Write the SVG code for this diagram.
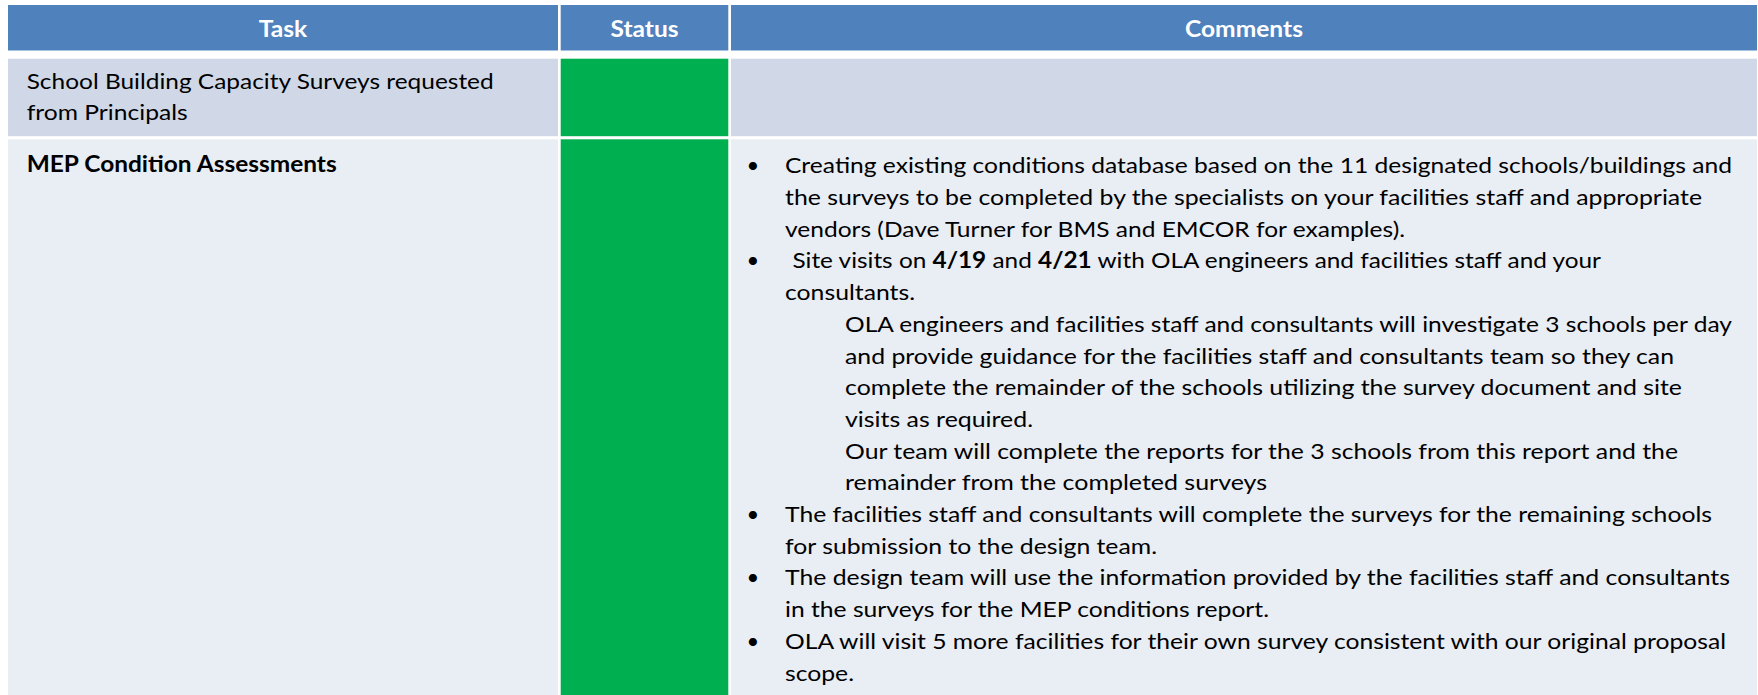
<svg xmlns="http://www.w3.org/2000/svg" width="1758" height="695" viewBox="0 0 1758 695">
<style>
.hdr{fill:#4F81BD}
.r1{fill:#D0D8E8}
.r2{fill:#E9EDF4}
.ok{fill:#00B050}
.ht{font-family:Lato,"Liberation Sans",sans-serif;font-size:22px;font-weight:bold;fill:#FFFFFF;text-anchor:middle}
.t{font-family:Lato,"Liberation Sans",sans-serif;font-size:22px;fill:#000000}
.b{font-weight:bold}
.bul{font-family:Lato,"Liberation Sans",sans-serif;font-size:22px;fill:#000000;text-anchor:middle}
</style>
<rect x="0" y="0" width="1758" height="695" fill="#FFFFFF"/>
<g id="header">
  <g id="h-task"><rect class="hdr" x="8" y="5" width="550" height="45.5"/><text class="ht" x="283" y="37" textLength="48.5" lengthAdjust="spacingAndGlyphs">Task</text></g>
  <g id="h-status"><rect class="hdr" x="560.7" y="5" width="167.6" height="45.5"/><text class="ht" x="644.5" y="37" textLength="68" lengthAdjust="spacingAndGlyphs">Status</text></g>
  <g id="h-comments"><rect class="hdr" x="731" y="5" width="1026" height="45.5"/><text class="ht" x="1244" y="37" textLength="118" lengthAdjust="spacingAndGlyphs">Comments</text></g>
</g>
<g id="row1">
  <g id="r1-task"><rect class="r1" x="8" y="58.7" width="550" height="77.5"/>
    <text class="t" x="26.7" y="89" textLength="467" lengthAdjust="spacingAndGlyphs">School Building Capacity Surveys requested</text>
    <text class="t" x="26.7" y="120" textLength="161" lengthAdjust="spacingAndGlyphs">from Principals</text>
  </g>
  <g id="r1-status"><rect class="ok" x="560.7" y="58.7" width="167.6" height="77.5"/></g>
  <g id="r1-comments"><rect class="r1" x="731" y="58.7" width="1026" height="77.5"/></g>
</g>
<g id="row2">
  <g id="r2-task"><rect class="r2" x="8" y="139.3" width="550" height="556"/>
    <text class="t b" x="26.7" y="171.7" textLength="310" lengthAdjust="spacingAndGlyphs">MEP Condition Assessments</text>
  </g>
  <g id="r2-status"><rect class="ok" x="560.7" y="139.3" width="167.6" height="556"/></g>
  <g id="r2-comments"><rect class="r2" x="731" y="139.3" width="1026" height="556"/>
    <text class="bul" x="753" y="173.3">•</text>
    <text class="t" x="785" y="173.3" textLength="947" lengthAdjust="spacingAndGlyphs">Creating existing conditions database based on the 11 designated schools/buildings and</text>
    <text class="t" x="785" y="205" textLength="917" lengthAdjust="spacingAndGlyphs">the surveys to be completed by the specialists on your facilities staff and appropriate</text>
    <text class="t" x="785" y="236.7" textLength="620" lengthAdjust="spacingAndGlyphs">vendors (Dave Turner for BMS and EMCOR for examples).</text>
    <text class="bul" x="753" y="268.4">•</text>
    <text class="t" x="792.5" y="268.4" textLength="808.5" lengthAdjust="spacingAndGlyphs">Site visits on <tspan class="b">4/19</tspan> and <tspan class="b">4/21</tspan> with OLA engineers and facilities staff and your</text>
    <text class="t" x="785" y="300.1" textLength="130" lengthAdjust="spacingAndGlyphs">consultants.</text>
    <text class="t" x="845" y="331.8" textLength="887" lengthAdjust="spacingAndGlyphs">OLA engineers and facilities staff and consultants will investigate 3 schools per day</text>
    <text class="t" x="845" y="363.5" textLength="829" lengthAdjust="spacingAndGlyphs">and provide guidance for the facilities staff and consultants team so they can</text>
    <text class="t" x="845" y="395.2" textLength="837" lengthAdjust="spacingAndGlyphs">complete the remainder of the schools utilizing the survey document and site</text>
    <text class="t" x="845" y="426.9" textLength="188" lengthAdjust="spacingAndGlyphs">visits as required.</text>
    <text class="t" x="845" y="458.6" textLength="833" lengthAdjust="spacingAndGlyphs">Our team will complete the reports for the 3 schools from this report and the</text>
    <text class="t" x="845" y="490.3" textLength="422" lengthAdjust="spacingAndGlyphs">remainder from the completed surveys</text>
    <text class="bul" x="753" y="522">•</text>
    <text class="t" x="785" y="522" textLength="927" lengthAdjust="spacingAndGlyphs">The facilities staff and consultants will complete the surveys for the remaining schools</text>
    <text class="t" x="785" y="553.7" textLength="372" lengthAdjust="spacingAndGlyphs">for submission to the design team.</text>
    <text class="bul" x="753" y="585.4">•</text>
    <text class="t" x="785" y="585.4" textLength="945" lengthAdjust="spacingAndGlyphs">The design team will use the information provided by the facilities staff and consultants</text>
    <text class="t" x="785" y="617.1" textLength="484" lengthAdjust="spacingAndGlyphs">in the surveys for the MEP conditions report.</text>
    <text class="bul" x="753" y="648.8">•</text>
    <text class="t" x="785" y="648.8" textLength="941" lengthAdjust="spacingAndGlyphs">OLA will visit 5 more facilities for their own survey consistent with our original proposal</text>
    <text class="t" x="785" y="680.5" textLength="69" lengthAdjust="spacingAndGlyphs">scope.</text>
  </g>
</g>
<g id="connectors"/>
</svg>
